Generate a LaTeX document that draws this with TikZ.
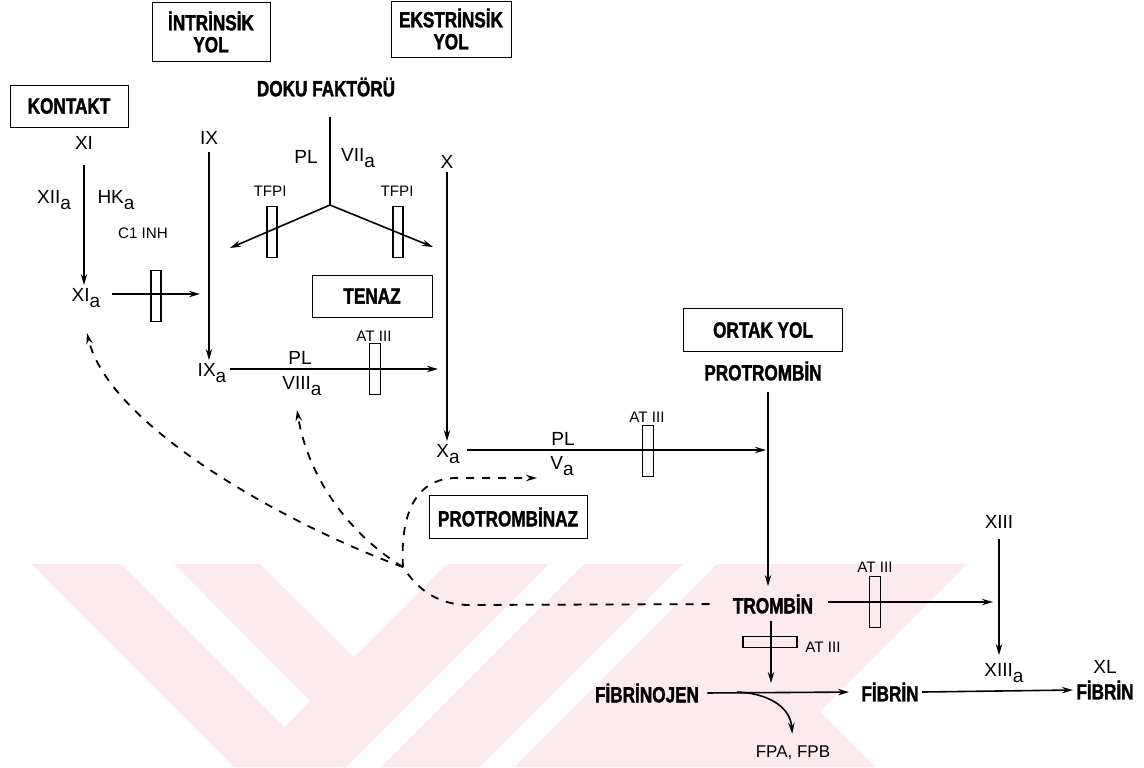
\documentclass[tikz,border=0pt]{standalone}
\usepackage{fontspec}
\setmainfont{Liberation Sans}
\newfontfamily\bcond[FakeStretch=0.78,BoldFeatures={FakeBold=1.6}]{Liberation Sans}
\usetikzlibrary{arrows.meta}
\definecolor{wm}{RGB}{253,234,238}
\newcommand{\sbA}{\smash{\raisebox{-2.9pt}{a}}}
\begin{document}
\begin{tikzpicture}[x=0.5pt,y=-0.5pt,
  bx/.style={draw, line width=0.5pt, inner sep=0pt, align=center, font=\bcond\bfseries\fontsize{11}{11}\selectfont},
  big/.style={font=\bcond\bfseries\fontsize{11}{12}\selectfont, inner sep=1.5pt},
  lab/.style={font=\fontsize{9.5}{10}\selectfont, inner sep=1.5pt},
  sml/.style={font=\fontsize{7.6}{8}\selectfont, inner sep=1pt},
  fpl/.style={font=\fontsize{8.5}{9}\selectfont, inner sep=1pt},
  bar/.style={draw, line width=0.6pt, inner sep=0pt, minimum width=5pt, minimum height=25.5pt},
  hbar/.style={draw, line width=0.6pt, inner sep=0pt, minimum width=27pt, minimum height=5.5pt},
  ln/.style={line width=0.8pt},
  arr/.style={ln, -{Stealth[length=5.5pt,width=3.2pt]}},
  dln/.style={line width=0.9pt, dash pattern=on 4pt off 4pt},
  darr/.style={dln, -{Stealth[length=5.5pt,width=3.2pt]}},
]
\useasboundingbox (0,0) rectangle (1144,767);
% watermark
\fill[wm] (31,564) -- (967,564) -- (820,711) -- (876,767) -- (234,767) -- cycle;
\fill[white] (122,564) -- (174,564) -- (310,701) -- (285,727) -- cycle;
\fill[white] (260,564) -- (446,564) -- (354,657) -- cycle;
\fill[white] (549,564) -- (584,564) -- (381,767) -- (346,767) -- cycle;
\fill[white] (683,564) -- (717,564) -- (514,767) -- (480,767) -- cycle;

% boxes
\node[bx, minimum width=59pt, minimum height=21pt] (kon) at (69,106) {KONTAKT};
\node[bx, minimum width=59pt, minimum height=29.5pt] (intr) at (211,32) {İNTRİNSİK\\YOL};
\node[bx, minimum width=60pt, minimum height=28pt] (ekstr) at (451,29) {EKSTRİNSİK\\YOL};
\node[bx, minimum width=60pt, minimum height=21pt] (ten) at (372,296) {TENAZ};
\node[bx, minimum width=79.5pt, minimum height=21.5pt] (ort) at (763,330) {ORTAK YOL};
\node[bx, minimum width=79pt, minimum height=21.5pt] (ptz) at (508,517) {PROTROMBİNAZ};

% labels
\node[lab] (XI) at (84,143) {XI};
\node[lab] (XIIa) at (54,197) {XII\sbA};
\node[lab] (HKa) at (116,197) {HK\sbA};
\node[lab] (XIa) at (86,295) {XI\sbA};
\node[sml] (c1) at (143,233) {C1 INH};
\node[lab] (IX) at (209,138) {IX};
\node[lab] (IXa) at (212,370) {IX\sbA};
\node[lab] (plT) at (300,358) {PL};
\node[lab] (VIIIa) at (302,383) {VIII\sbA};
\node[sml] (at1) at (374,336) {AT III};
\node[big] (df) at (326,87) {DOKU FAKTÖRÜ};
\node[lab] (plD) at (306,157) {PL};
\node[lab] (VIIa) at (358,155) {VII\sbA};
\node[sml] (tf1) at (270,191) {TFPI};
\node[sml] (tf2) at (397,191) {TFPI};
\node[lab] (X) at (447,162) {X};
\node[lab] (Xa) at (448,451) {X\sbA};
\node[lab] (plV) at (563,439) {PL};
\node[lab] (Va) at (562,463) {V\sbA};
\node[sml] (at2) at (647,417) {AT III};
\node[big] (prot) at (763,371) {PROTROMBİN};
\node[big] (trom) at (773,604) {TROMBİN};
\node[sml] (at3) at (875,567) {AT III};
\node[lab] (XIII) at (999,522) {XIII};
\node[lab] (XIIIa) at (1004,670) {XIII\sbA};
\node[lab] (XL) at (1105,667) {XL};
\node[big] (xlf) at (1105,690) {FİBRİN};
\node[sml] (at4) at (823,647) {AT III};
\node[big] (fbj) at (647,693) {FİBRİNOJEN};
\node[big] (fib) at (890,692) {FİBRİN};
\node[fpl] (fpa) at (793,753) {FPA, FPB};

% coordinates
\coordinate (c1e) at (200,294);
\coordinate (ixe) at (438,369);
\coordinate (pv) at (766,450);
\coordinate (br) at (330,205);
\coordinate (tfl) at (230,248);
\coordinate (tfr) at (433,247);
\coordinate (x13) at (993,602);
\coordinate (fdn) at (771,683);
\coordinate (fpas) at (737,692);
\coordinate (J) at (403,567);
\coordinate (fb1) at (87,333);
\coordinate (fb2) at (297,410);
\coordinate (fb3) at (537,478);

% solid connectors
\draw[arr, shorten <=6pt] (XI.south) -- (XI.south |- XIa.north);
\draw[arr, shorten <=2pt] (IX.south) -- (IX.south |- IXa.north);
\draw[arr] (X.south) -- (X.south |- Xa.north);
\draw[arr, shorten <=4pt] (XIa.east |- c1e) -- (c1e);
\draw[arr] (IXa.east |- ixe) -- (ixe);
\draw[arr, shorten <=2pt] (Xa.east |- pv) -- (pv);
\draw[arr, shorten <=4pt, shorten >=2.5pt] ([xshift=2.5pt]prot.south) -- ([xshift=2.5pt]prot.south |- trom.north);
\draw[ln, shorten <=8.5pt] (df.south -| br) -- (br);
\draw[arr] (br) -- (tfl);
\draw[arr] (br) -- (tfr);
\draw[arr, shorten <=6pt] (trom.east |- x13) -- (x13);
\draw[arr, shorten <=3.5pt, shorten >=2.5pt] (XIII.south) -- (XIII.south |- XIIIa.north);
\draw[arr, shorten <=2pt] (trom.south -| fdn) -- (fdn);
\draw[arr, shorten <=2.5pt, shorten >=4.5pt] (fbj.east) -- (fib.west);
\draw[arr, shorten >=5pt] (fpas) .. controls (765,693) and (790,705) .. (fpa.north);
\draw[arr] (fib.east) -- (xlf.west);

% inhibitor bars
\node[bar] (b1) at (156,296) {};
\node[bar] (b2) at (272,232) {};
\node[bar] (b3) at (398,232) {};
\node[bar, minimum width=5.5pt] (b4) at (375,369) {};
\node[bar, minimum width=5.5pt] (b5) at (648,451) {};
\node[bar, minimum width=5.5pt] (b6) at (875,602) {};
\node[hbar] (b7) at (770,642) {};

% dashed feedback
\draw[dln, shorten <=10pt] (trom.west) -- (470,605) .. controls (438,605) and (418,590) .. (J);
\draw[darr] (J) .. controls (300,530) and (110,430) .. (fb1);
\draw[darr] (J) .. controls (350,535) and (308,478) .. (fb2);
\draw[darr] (J) .. controls (400,515) and (415,479) .. (455,478) -- (fb3);
\end{tikzpicture}
\end{document}
